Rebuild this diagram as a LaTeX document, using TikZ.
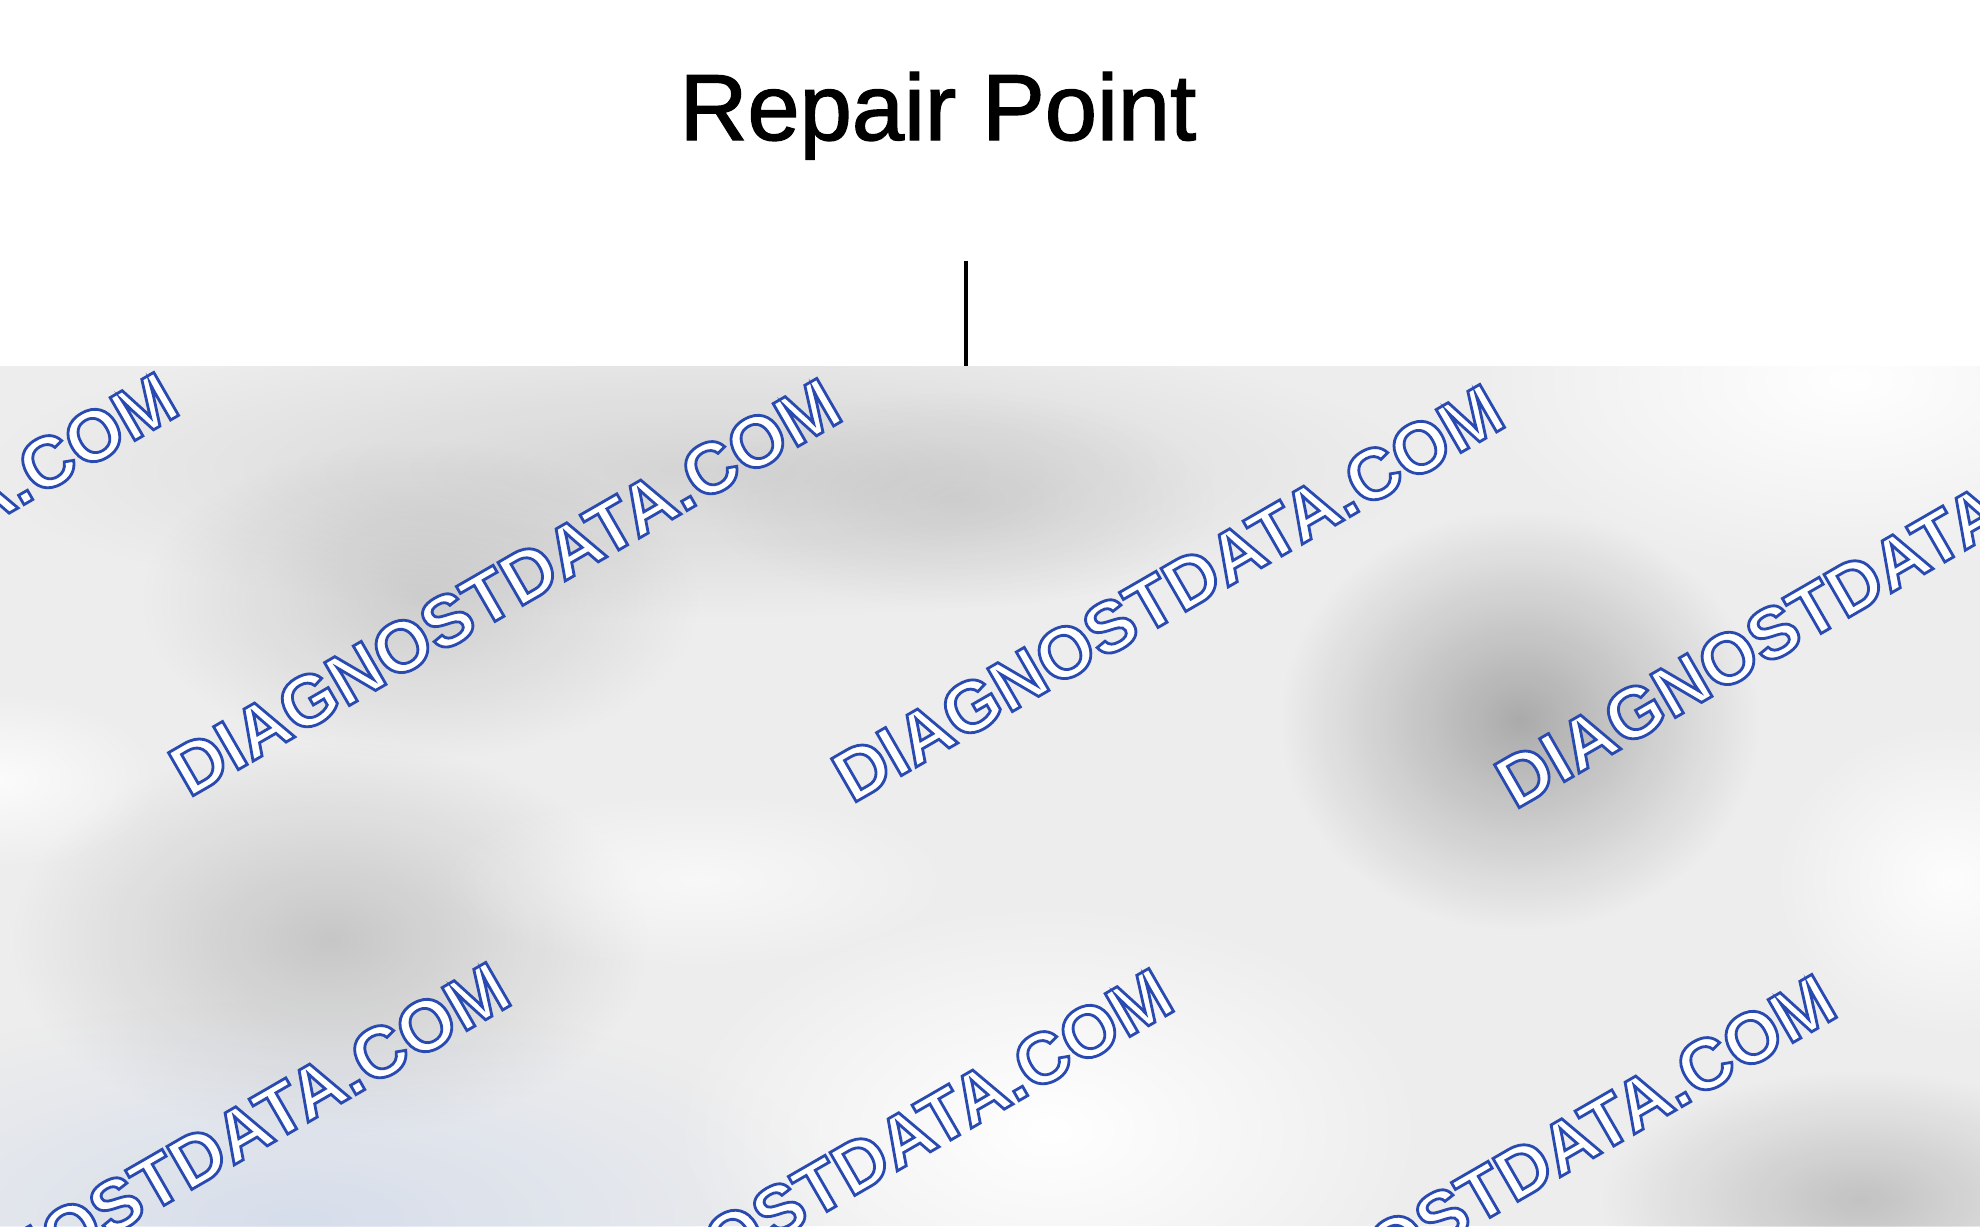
\documentclass[tikz,border=0pt]{standalone}
\usepackage{fontspec}
\setmainfont{Liberation Sans}
\usetikzlibrary{fadings}

\definecolor{photobase}{HTML}{EDEDED}
\definecolor{photoblue}{HTML}{C8D4EA}

\tikzfading[name=soft blob, inner color=transparent!0, outer color=transparent!100]

% Text mit Kontur: #1 Strichfarbe (rgb), #2 Strichbreite, #3 Text
\newcommand{\strokedtext}[3]{\special{pdf:literal direct #1 RG #2 w 2 Tr}#3\special{pdf:literal direct 0 Tr}}

\tikzset{
  blob/.style={path fading=soft blob, fill=black, fill opacity=#1},
  glare/.style={path fading=soft blob, fill=white, fill opacity=#1},
  watermark/.style={rotate=30, inner sep=0pt, text=white, font=\fontsize{20.5}{21}\selectfont\bfseries},
}

\begin{document}
\begin{tikzpicture}[x=0.01cm, y=-0.01cm]
\useasboundingbox (0,0) rectangle (1980,1226);

% Titel und Hinweislinie
\node[anchor=base, inner sep=0pt, font=\fontsize{26.7}{30}\selectfont] (repair) at (938,140) {\strokedtext{0 0 0}{0.4}{Repair Point}};
\coordinate (tip) at (966,261);
\coordinate (photo top) at (966,366);

% unscharfes Foto
\fill[photobase] (0,366) rectangle (1980,1226);
\begin{scope}
\clip (0,366) rectangle (1980,1226);
\fill[blob=.10] (700,470) ellipse (720 and 150);
\fill[blob=.13] (420,600) ellipse (280 and 160);
\fill[blob=.08] (960,500) ellipse (260 and 110);
\fill[blob=.28] (1520,720) ellipse (240 and 210);
\fill[blob=.16] (330,940) ellipse (320 and 200);
\fill[blob=.18] (1860,1200) ellipse (260 and 130);
\fill[photoblue, path fading=soft blob, fill opacity=.6] (300,1220) ellipse (560 and 220);
\fill[glare=1] (1850,380) ellipse (380 and 200);
\fill[glare=.9] (1950,880) ellipse (180 and 160);
\fill[glare=1] (1050,1130) ellipse (380 and 230);
\fill[glare=.8] (0,780) ellipse (160 and 90);
\fill[glare=.6] (700,880) ellipse (260 and 90);

% Wasserzeichen
\foreach \x/\y in {-158/581, 505/587, 1168/593, 1831/599, 174/1171, 837/1177, 1500/1183}
  \node[watermark] at (\x,\y) {\strokedtext{0.16 0.29 0.69}{0.8}{DIAGNOSTDATA.COM}};
\end{scope}

\draw[line width=1.4pt] (tip) -- (photo top);
\end{tikzpicture}
\end{document}
